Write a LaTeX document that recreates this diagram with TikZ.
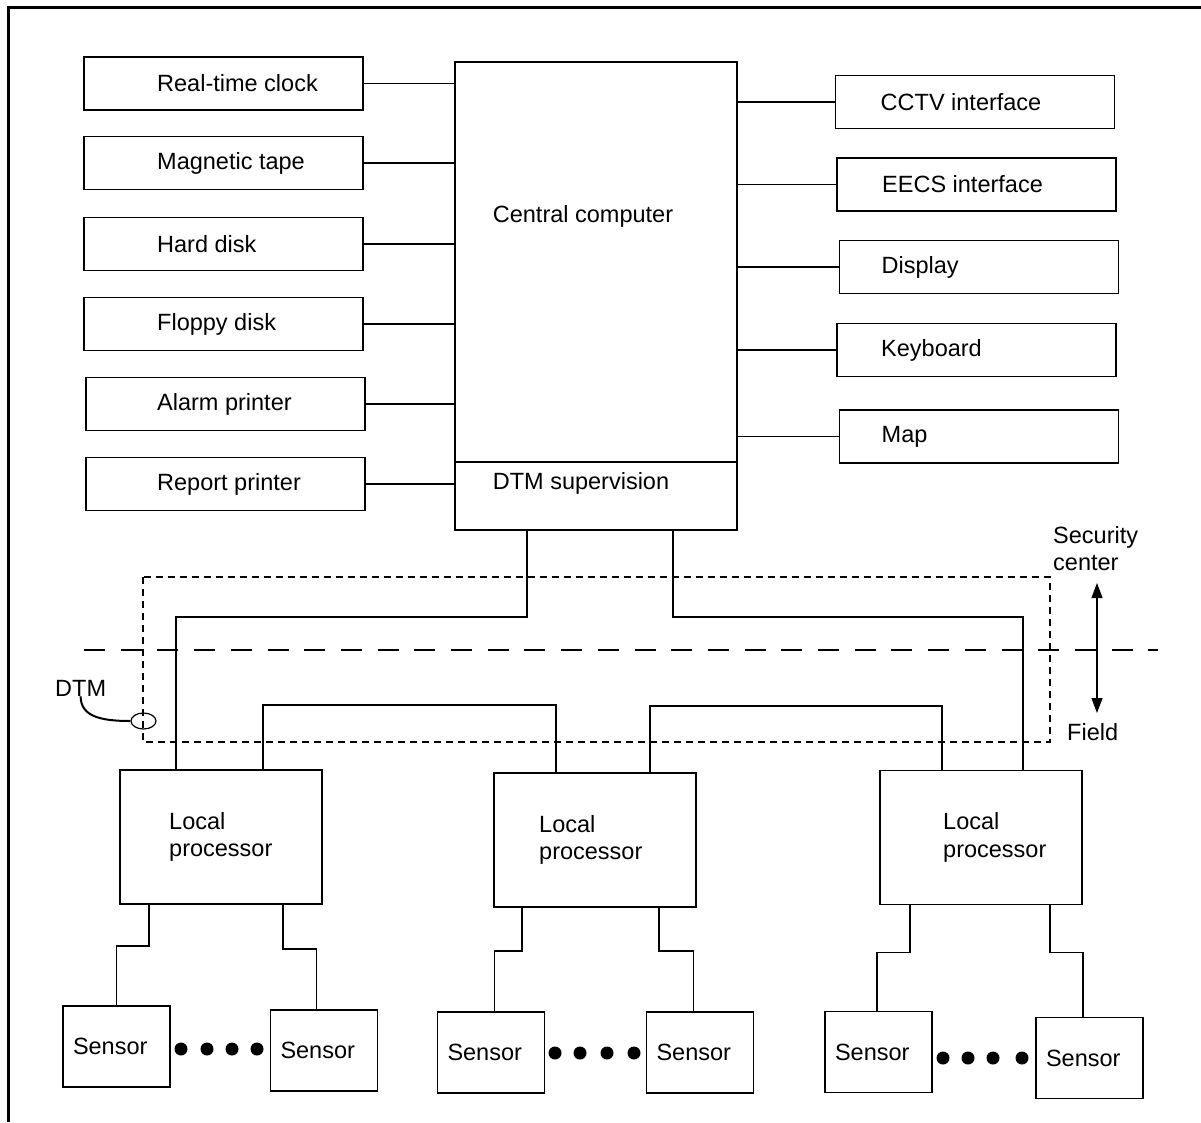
\documentclass[tikz,border=0pt]{standalone}
\usepackage{fontspec}
\setmainfont{Liberation Sans}
\usetikzlibrary{calc}
\usetikzlibrary{arrows.meta}
\usetikzlibrary{shapes.geometric}

\begin{document}
\begin{tikzpicture}[x=1pt,y=-1pt,
    every node/.style={font=\fontsize{23.5}{27.5}\selectfont},
    unit/.style={draw,line width=1.2pt,minimum width=279pt,minimum height=53pt,inner sep=0pt,outer sep=0pt},
    tag/.style={anchor=west,inner sep=0pt},
    lproc/.style={draw,line width=1.2pt,minimum width=202pt,minimum height=134pt,inner sep=0pt,outer sep=0pt},
    sensor/.style={draw,line width=1.2pt,minimum height=81pt,text width=87pt,inner xsep=10pt,align=left,outer sep=0pt},
    wire/.style={line width=1.1pt}]

                \useasboundingbox (0,0) rectangle (1201,1122);
                \draw[line width=3pt] (8,1122) -- (8,7) -- (1201,7);

                \node[draw,line width=1.2pt,minimum width=282pt,minimum height=468pt,inner sep=0pt,outer sep=0pt] (cc) at (596,296) {};
                \draw[line width=2pt] ([yshift=68pt]cc.south west) -- ([yshift=68pt]cc.south east);
                \node (cc-t) at (583,216) {Central computer};
                \node (dtms) at (581,483) {DTM supervision};

                \node[unit] (rtc) at (223.5,83.5) {};
                \node[unit] (mt) at (223.5,163) {};
                \node[unit] (hd) at (223.5,244) {};
                \node[unit] (fd) at (223.5,324) {};
                \node[unit] (ap) at (225.5,404) {};
                \node[unit] (rp) at (225.5,484) {};
                \node[tag] (rtc-t) at ([xshift=73pt]rtc.west) {Real-time clock};
                \node[tag] (mt-t) at ([xshift=73pt]mt.west) {Magnetic tape};
                \node[tag] (hd-t) at ([xshift=73pt]hd.west) {Hard disk};
                \node[tag] (fd-t) at ([xshift=73pt]fd.west) {Floppy disk};
                \node[tag] (ap-t) at ([xshift=71pt]ap.west) {Alarm printer};
                \node[tag] (rp-t) at ([xshift=71pt]rp.west) {Report printer};
                \foreach \n in {rtc,mt,hd,fd,ap,rp}
                    \draw[wire] (\n.east) -- (\n.east -| cc.west);

                \node[unit] (cctv) at (975,102) {};
                \node[unit] (eecs) at (976.5,184.5) {};
                \node[unit] (disp) at (979,267) {};
                \node[unit] (kbd) at (976.5,350) {};
                \node[unit] (map) at (979,436.5) {};
                \node[tag] (cctv-t) at ([xshift=45pt]cctv.west) {CCTV interface};
                \node[tag] (eecs-t) at ([xshift=45pt]eecs.west) {EECS interface};
                \node[tag] (disp-t) at ([xshift=42pt]disp.west) {Display};
                \node[tag] (kbd-t) at ([xshift=44pt]kbd.west) {Keyboard};
                \node[tag] (map-t) at ([xshift=42pt]map.west) {Map};
                \foreach \n in {cctv,eecs,disp,kbd,map}
                    \draw[wire] (\n.west) -- (\n.west -| cc.east);

                \draw[line width=1.2pt,dash pattern=on 7pt off 5pt] (143,577) rectangle (1050,742);
                \draw[line width=2pt,dash pattern=on 21pt off 15.7pt] (84,650) -- (1158,650);

                \node[tag] (dtm) at (55,688) {DTM};
                \node[draw,ellipse,line width=1.2pt,minimum width=25pt,minimum height=16pt,inner sep=0pt] (dtm-e) at (143.5,721) {};
                \draw[line width=2pt] (dtm.south) .. controls ([yshift=-20pt]dtm.south) and ([xshift=-30pt]dtm-e.west) .. (dtm-e.west);

                \node[tag,align=left] (sc) at (1053,548.5) {Security\\center};
                \node[tag] (fld) at (1067,732) {Field};
                \coordinate (up) at (1097,583);
                \coordinate (down) at (1097,713);
                \draw[line width=1.2pt,{Triangle[length=15pt,width=11pt]}-{Triangle[length=15pt,width=11pt]}] (up) -- (down);

                \node[lproc] (lp1) at (221,837) {};
                \node[lproc] (lp2) at (595,840) {};
                \node[lproc] (lp3) at (981,837.5) {};
                \node[tag,align=left] (lp1-t) at ([xshift=49pt]lp1.west) {Local\\processor};
                \node[tag,align=left] (lp2-t) at ([xshift=45pt]lp2.west) {Local\\processor};
                \node[tag,align=left] (lp3-t) at ([xshift=63pt]lp3.west) {Local\\processor};

                \draw[wire] ([xshift=72pt]cc.south west) -- ++(0,87) -| ([xshift=56pt]lp1.north west);
                \draw[wire] ([xshift=218pt]cc.south west) -- ++(0,87) -| ([xshift=143pt]lp3.north west);
                \draw[wire] ([xshift=143pt]lp1.north west) -- ++(0,-65) -| ([xshift=62pt]lp2.north west);
                \draw[wire] ([xshift=156pt]lp2.north west) -- ++(0,-67) -| ([xshift=62pt]lp3.north west);

                \node[sensor] (s1) at (116.5,1046.5) {Sensor};
                \node[sensor] (s2) at (324,1050.5) {Sensor};
                \node[sensor] (s3) at (491,1052.5) {Sensor};
                \node[sensor] (s4) at (700,1052.5) {Sensor};
                \node[sensor] (s5) at (878.5,1052) {Sensor};
                \node[sensor] (s6) at (1089.5,1058) {Sensor};

                \draw[wire] ([xshift=29pt]lp1.south west) -- ++(0,42) -| (s1.north);
                \draw[wire] ([xshift=163pt]lp1.south west) -- ++(0,45) -| ([xshift=46pt]s2.north west);
                \draw[wire] ([xshift=28pt]lp2.south west) -- ++(0,44) -| ([xshift=57pt]s3.north west);
                \draw[wire] ([xshift=165pt]lp2.south west) -- ++(0,44) -| ([xshift=47pt]s4.north west);
                \draw[wire] ([xshift=30pt]lp3.south west) -- ++(0,48) -| ([xshift=52pt]s5.north west);
                \draw[wire] ([xshift=170pt]lp3.south west) -- ++(0,48) -| ([xshift=47pt]s6.north west);

                \foreach \x in {181,207,232,257}
                    \fill (\x,1049) circle (6.5);
                \foreach \x in {555,580,607,634}
                    \fill (\x,1053) circle (6.5);
                \foreach \x in {943,968,993,1022}
                    \fill (\x,1058) circle (6.5);
\end{tikzpicture}
\end{document}
